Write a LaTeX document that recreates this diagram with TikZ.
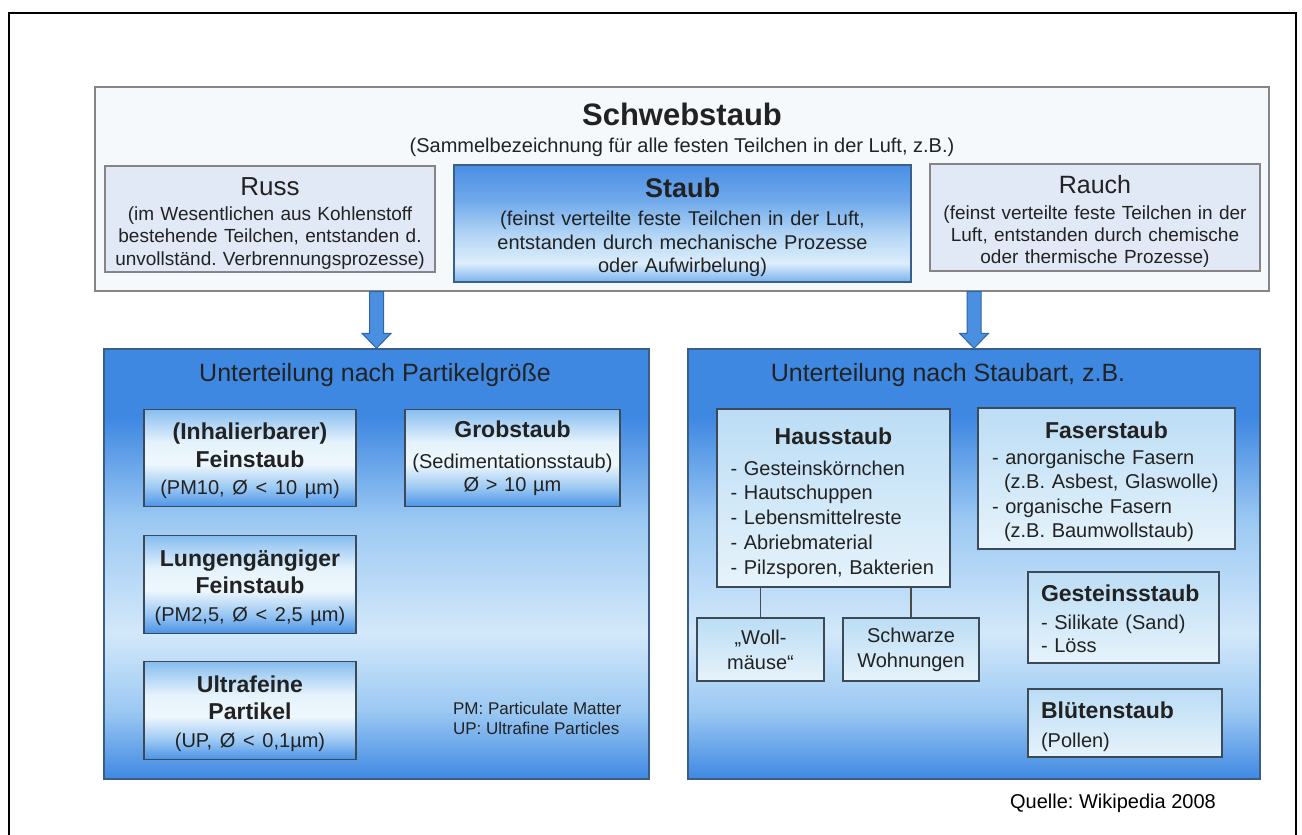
\documentclass[tikz,border=0pt]{standalone}
\usepackage{fontspec}
\setmainfont{Liberation Sans}
\frenchspacing

\definecolor{ink}{HTML}{222222}
\definecolor{framegray}{HTML}{858585}
\definecolor{topfill}{HTML}{F5F9FC}
\definecolor{sidefill}{HTML}{E2E9F6}
\definecolor{staubedge}{HTML}{3A5F8C}
\definecolor{paneledge}{HTML}{3B5E86}
\definecolor{boxedge}{HTML}{3C4A58}
\definecolor{linkgray}{HTML}{4A4A4A}
\definecolor{arrowblue}{HTML}{4A8FE0}
\definecolor{arrowedge}{HTML}{2E67A8}
% staub box
\definecolor{stbot}{HTML}{78B2EE}
\definecolor{stlight}{HTML}{DCEEFB}
\definecolor{stmid}{HTML}{B4D6F5}
\definecolor{stupper}{HTML}{6FA9EB}
\definecolor{sttop}{HTML}{4A8EE3}
% panels
\definecolor{pblue}{HTML}{3F88E2}
\definecolor{pmid}{HTML}{9CC9F3}
\definecolor{plight}{HTML}{D3E8FA}
% size boxes
\definecolor{sbot}{HTML}{4B93E7}
\definecolor{smid}{HTML}{9CC9F3}
\definecolor{swhite}{HTML}{EEF7FD}
\definecolor{spale}{HTML}{E6F3FC}
\definecolor{stop}{HTML}{86BDEF}
% kind boxes
\definecolor{kbot}{HTML}{E6F3FB}
\definecolor{ktop}{HTML}{BBDDF5}

\pgfdeclareverticalshading{staubshade}{100bp}{color(0bp)=(stbot); color(25bp)=(stbot); color(33bp)=(stlight); color(45bp)=(stmid); color(60bp)=(stupper); color(75bp)=(sttop); color(100bp)=(sttop)}
\pgfdeclareverticalshading{panelshade}{100bp}{color(0bp)=(pblue); color(25bp)=(pblue); color(33bp)=(pmid); color(42bp)=(plight); color(55bp)=(pmid); color(67bp)=(pblue); color(100bp)=(pblue)}
\pgfdeclareverticalshading{sizeshade}{100bp}{color(0bp)=(sbot); color(25bp)=(sbot); color(35bp)=(smid); color(47bp)=(swhite); color(58bp)=(spale); color(75bp)=(stop); color(100bp)=(stop)}
\pgfdeclareverticalshading{kindshade}{100bp}{color(0bp)=(kbot); color(25bp)=(kbot); color(75bp)=(ktop); color(100bp)=(ktop)}

% first line with some extra height, to push a text block down
\newcommand\liftline[2]{\raisebox{0pt}[\dimexpr\height+#1\relax]{#2}}

\begin{document}
\begin{tikzpicture}[x=0.5pt,y=-0.5pt,
    every node/.style={text=ink},
    topbox/.style={draw=framegray, line width=0.7pt, fill=topfill, inner sep=0pt},
    sidebox/.style={draw=framegray, line width=0.7pt, fill=sidefill, inner sep=0pt, align=center},
    staubbox/.style={draw=staubedge, line width=0.7pt, shading=staubshade, inner sep=0pt, align=center},
    panel/.style={draw=paneledge, line width=0.7pt, shading=panelshade, inner sep=0pt, minimum height=215pt},
    sizebox/.style={draw=boxedge, line width=0.6pt, shading=sizeshade, inner sep=0pt, align=center,
      minimum width=106pt, minimum height=48.75pt, text width=104pt},
    kindbox/.style={draw=boxedge, line width=0.6pt, shading=kindshade, inner ysep=0pt},
    link/.style={draw=linkgray, line width=0.6pt},
    blockarrow/.style={draw=arrowedge, fill=arrowblue, line width=0.5pt,
      to path={([xshift=-3.5pt]\tikztostart) -- ([xshift=3.5pt]\tikztostart)
        -- ([xshift=3.5pt,yshift=7.5pt]\tikztotarget) -- ([xshift=7.25pt,yshift=7.5pt]\tikztotarget)
        -- (\tikztotarget) -- ([xshift=-7.25pt,yshift=7.5pt]\tikztotarget)
        -- ([xshift=-3.5pt,yshift=7.5pt]\tikztotarget) -- cycle}}]

    % page and outer frame
    \useasboundingbox (0,0) rectangle (1302,835);
    \draw[line width=1pt] (9,835) -- (9,13) -- (1296,13) -- (1296,835);

    % Schwebstaub box
    \node[topbox, minimum width=587pt, minimum height=102pt] (schweb) at (682,189) {};
    \node[font=\bfseries\fontsize{15.5}{15.5}\selectfont] (schwebtitle) at (682,114) {Schwebstaub};
    \node[font=\fontsize{10}{12}\selectfont] (schwebsub) at (682,147) {(Sammelbezeichnung für alle festen Teilchen in der Luft, z.B.)};

    \node[sidebox, minimum width=165pt, minimum height=53pt, text width=160pt, font=\fontsize{9.5}{11.25}\selectfont] (russ) at (270,219)
      {\liftline{4.5pt}{\fontsize{13}{13}\selectfont Russ}\\[1pt] (im Wesentlichen aus Kohlenstoff\\ bestehende Teilchen, entstanden d.\\ unvollständ. Verbrennungsprozesse)};
    \node[staubbox, minimum width=228.5pt, minimum height=58.5pt, text width=222pt, font=\fontsize{10}{11.75}\selectfont] (staub) at (682.5,223.5)
      {\liftline{4pt}{\bfseries\fontsize{13.5}{13.5}\selectfont Staub}\\[2.5pt] (feinst verteilte feste Teilchen in der Luft,\\ entstanden durch mechanische Prozesse\\ oder Aufwirbelung)};
    \node[sidebox, minimum width=165pt, minimum height=53.5pt, text width=160pt, font=\fontsize{9.5}{11}\selectfont] (rauch) at (1095,217.5)
      {\liftline{4pt}{\fontsize{12.5}{12.5}\selectfont Rauch}\\[2pt] (feinst verteilte feste Teilchen in der\\ Luft, entstanden durch chemische\\ oder thermische Prozesse)};

    % lower panels
    \node[panel, minimum width=272.5pt] (lpanel) at (376.5,564) {};
    \node[panel, minimum width=286pt] (rpanel) at (974,564) {};
    \node[font=\fontsize{12.5}{12.5}\selectfont] (ltitle) at (375,375) {Unterteilung nach Partikelgröße};
    \node[font=\fontsize{12.5}{12.5}\selectfont] (rtitle) at (948,375) {Unterteilung nach Staubart, z.B.};

    % size classes
    \node[sizebox, font=\bfseries\fontsize{11.5}{13.75}\selectfont] (inhal) at (250,458)
      {\liftline{3pt}{(Inhalierbarer)}\\ Feinstaub\\ {\mdseries\fontsize{10}{13.75}\selectfont (PM10, Ø < 10 µm)}};
    \node[sizebox, minimum width=107.5pt, text width=106pt, font=\fontsize{10}{11.5}\selectfont] (grob) at (512.5,458)
      {{\bfseries\fontsize{11.5}{11.5}\selectfont Grobstaub}\\[4pt] (Sedimentationsstaub)\\ Ø > 10 µm};
    \node[sizebox, font=\bfseries\fontsize{11.5}{13.75}\selectfont] (lungen) at (250,584.5)
      {\liftline{3pt}{Lungengängiger}\\ Feinstaub\\ {\mdseries\fontsize{10}{13.75}\selectfont (PM2,5, Ø < 2,5 µm)}};
    \node[sizebox, font=\bfseries\fontsize{11.5}{13.75}\selectfont] (ultra) at (250,710.5)
      {\liftline{3pt}{Ultrafeine}\\ Partikel\\ {\mdseries\fontsize{10}{13.75}\selectfont (UP, Ø < 0,1µm)}};
    \node[align=left, anchor=west, font=\fontsize{8.5}{10}\selectfont] (pmnote) at (446,718)
      {PM: Particulate Matter\\ UP: Ultrafine Particles};

    % kinds of dust
    \node[kindbox, minimum width=116.5pt, minimum height=89pt, text width=103pt, inner xsep=6.75pt, align=left, font=\fontsize{10}{12.4}\selectfont] (haus) at (833.5,498)
      {\liftline{5pt}{\makebox[103pt]{\bfseries\fontsize{11.5}{11.5}\selectfont Hausstaub}}\\[3pt] - Gesteinskörnchen\\ - Hautschuppen\\ - Lebensmittelreste\\ - Abriebmaterial\\ - Pilzsporen, Bakterien};
    \node[kindbox, minimum width=63.5pt, minimum height=31.5pt, text width=60pt, inner xsep=1.75pt, align=center, font=\fontsize{10}{12.5}\selectfont] (wolle) at (760.5,649.5)
      {„Woll-\\ mäuse“};
    \node[kindbox, minimum width=68pt, minimum height=31.5pt, text width=64pt, inner xsep=2pt, align=center, font=\fontsize{10}{12.5}\selectfont] (schwarz) at (911,649.5)
      {Schwarze\\ Wohnungen};
    \node[kindbox, minimum width=128.5pt, minimum height=70.5pt, text width=114.5pt, inner xsep=7pt, align=left, font=\fontsize{10}{12.25}\selectfont] (faser) at (1106.5,478.5)
      {\liftline{3pt}{\makebox[114.5pt]{\bfseries\fontsize{11.5}{11.5}\selectfont Faserstaub}}\\[0.75pt] - anorganische Fasern\\ \hspace*{6pt}(z.B. Asbest, Glaswolle)\\ - organische Fasern\\ \hspace*{6pt}(z.B. Baumwollstaub)};
    \node[kindbox, minimum width=95.5pt, minimum height=45.5pt, text width=82.5pt, inner xsep=6.5pt, align=left, font=\fontsize{10}{11.5}\selectfont] (geste) at (1123.5,617.5)
      {\liftline{1.5pt}{\bfseries\fontsize{11.5}{11.5}\selectfont Gesteinsstaub}\\[2.5pt] - Silikate (Sand)\\ - Löss};
    \node[kindbox, minimum width=97pt, minimum height=34pt, text width=84pt, inner xsep=6.5pt, align=left, font=\fontsize{10}{11.5}\selectfont] (bluet) at (1125,723)
      {\liftline{4pt}{\bfseries\fontsize{11.5}{11.5}\selectfont Blütenstaub}\\[3pt] (Pollen)};

    % links below Hausstaub
    \draw[link] (haus.south -| wolle.north) -- (wolle.north);
    \draw[link] (haus.south -| schwarz.north) -- (schwarz.north);

    % arrows down to the panels
    \coordinate (larrow) at (lpanel.north |- schweb.south);
    \coordinate (rarrow) at (rpanel.north |- schweb.south);
    \draw[blockarrow] (larrow) to (lpanel.north);
    \draw[blockarrow] (rarrow) to (rpanel.north);

    % source
    \node[font=\fontsize{10}{12}\selectfont, text=black] (quelle) at (1113,803) {Quelle: Wikipedia 2008};
\end{tikzpicture}
\end{document}
